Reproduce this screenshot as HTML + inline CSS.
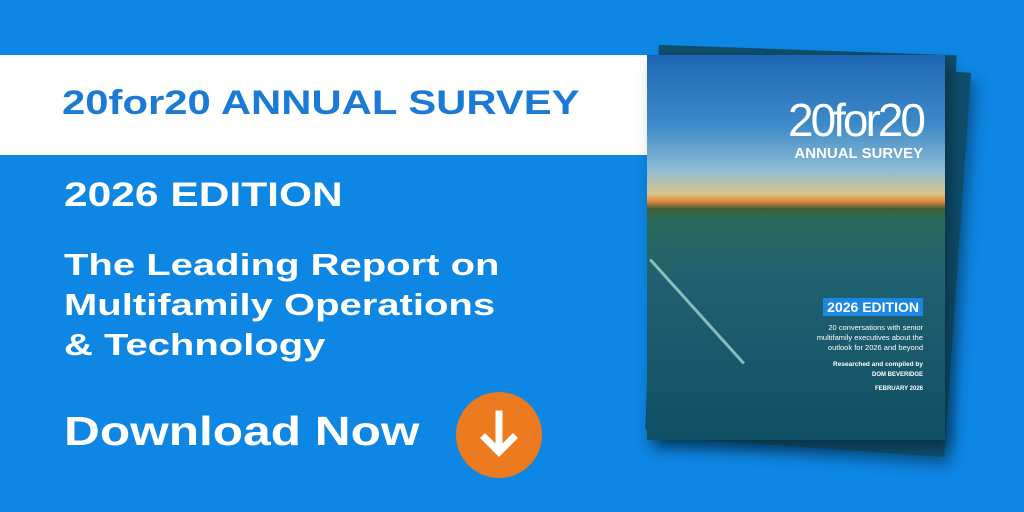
<!DOCTYPE html>
<html><head><meta charset="utf-8"><style>
body{margin:0;width:1024px;height:512px;overflow:hidden;background:#0e86e3;font-family:"Liberation Sans",sans-serif;position:relative}
.band{position:absolute;left:0;top:55px;width:660px;height:100px;background:#fff}
.t{position:absolute;color:#fff;font-weight:bold;white-space:nowrap;transform-origin:0 0}
.page{position:absolute;width:298px;height:385px;background:#0f4e6c}
.cover{left:647px;top:55px;width:298px;height:385px;overflow:hidden;
background:linear-gradient(180deg,#1e66b4 0%,#3d8ac8 18%,#8fbcd4 30%,#d8c48a 36%,#e08a3a 38%,#3d5a3a 40%,#3f8a3c 45%,#2d6a64 50%,#1d5e6c 65%,#105064 100%);
box-shadow:6px 8px 14px rgba(0,0,0,.35)}
.c{position:absolute;color:#fff;text-align:right;white-space:nowrap}
</style></head><body>
<div class="band"></div>
<div class="t" style="left:62px;top:84px;font-size:34px;color:#1a7ad6;transform:scaleX(1.23)">20for20 ANNUAL SURVEY</div>
<div class="t" style="left:64px;top:176px;font-size:34px;transform:scaleX(1.25)">2026 EDITION</div>
<div class="t" style="left:64px;top:245px;font-size:31px;line-height:40px;transform:scaleX(1.29)">The Leading Report on<br>Multifamily Operations<br>&amp; Technology</div>
<div class="t" style="left:64px;top:408px;font-size:41px;transform:scaleX(1.21)">Download Now</div>
<div style="position:absolute;left:456px;top:392px;width:86px;height:86px;border-radius:50%;background:#ec7a1f"></div>
<svg style="position:absolute;left:456px;top:392px" width="86" height="86"><path d="M43 22V58M29 46L43 60L57 46" stroke="#fff" stroke-width="7" fill="none" stroke-linecap="square"/></svg>
<div class="page" style="left:660px;top:62px;transform:rotate(4deg);box-shadow:6px 8px 14px rgba(0,0,0,.35)"></div>
<div class="page" style="left:652px;top:50px;transform:rotate(2deg)"></div>
<div class="page cover">
<div style="position:absolute;left:0;top:160px;width:298px;height:225px;background:linear-gradient(180deg,#2a6a5a 0%,#1f6070 30%,#105064 100%)"></div>
<div class="c" style="right:22px;top:38px;font-size:46px;letter-spacing:-3px;font-weight:normal">20for20</div>
<div class="c" style="right:22px;top:90px;font-size:15px;font-weight:bold">ANNUAL SURVEY</div>
<div style="position:absolute;left:-20px;top:255px;width:140px;height:3px;background:#cfe;transform:rotate(48deg);opacity:.6"></div>
<div class="c" style="right:22px;top:243px;font-size:14px;font-weight:bold;background:#1a88e0;padding:1px 4px">2026 EDITION</div>
<div class="c" style="right:22px;top:268px;font-size:7.5px;line-height:10px">20 conversations with senior<br>multifamily executives about the<br>outlook for 2026 and beyond</div>
<div class="c" style="right:22px;top:306px;font-size:6.5px;font-weight:bold">Researched and compiled by</div>
<div class="c" style="right:22px;top:317px;font-size:6px;font-weight:bold">DOM BEVERIDGE</div>
<div class="c" style="right:22px;top:331px;font-size:6px;font-weight:bold">FEBRUARY 2026</div>
</div>
</body></html>
